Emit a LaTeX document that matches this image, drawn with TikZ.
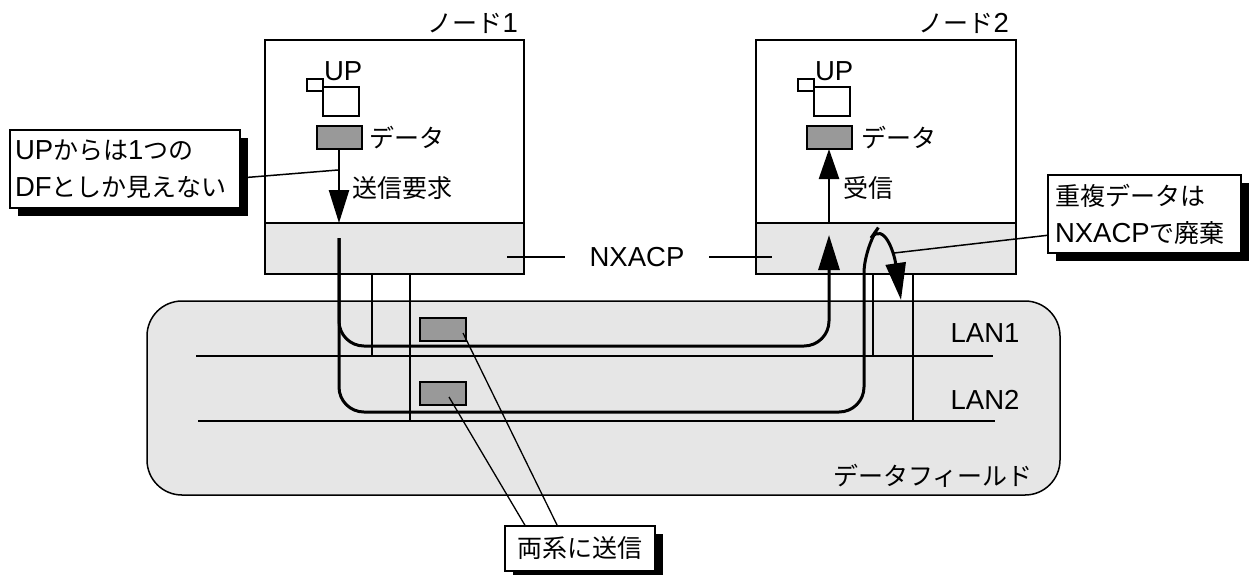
\documentclass[tikz,border=0pt]{standalone}
\usepackage{fontspec}
\setmainfont{Noto Sans CJK JP}
\newfontfamily\lat[Scale=1.1]{Liberation Sans}
\usetikzlibrary{arrows.meta}
\definecolor{fieldgray}{HTML}{E6E6E6}
\definecolor{pktgray}{HTML}{999999}
\begin{document}
\begin{tikzpicture}[x=1pt,y=-1pt,
  every node/.style={inner sep=0pt, outer sep=0pt},
  jpt/.style={font=\fontsize{25}{37}\selectfont},
  latt/.style={font=\lat\fontsize{25}{30}\selectfont},
  boxline/.style={draw=black, line width=2.5pt},
  nodebox/.style={boxline, fill=white, anchor=north west},
  nxbox/.style={boxline, fill=fieldgray, anchor=north west},
  datab/.style={draw=black, line width=2pt, fill=pktgray, minimum width=45pt, minimum height=23pt},
  upbox/.style={draw=black, line width=1.8pt, fill=white, anchor=north west},
  route/.style={line width=3pt},
  arrowl/.style={line width=2.5pt},
  thinl/.style={line width=1.5pt},
  lanl/.style={line width=2pt},
  callout/.style={draw=black, line width=2.5pt, fill=white, anchor=north west, font=\fontsize{25}{37}\selectfont},
  shadowc/.style={fill=black},
]
\useasboundingbox (0,0) rectangle (1249,574);

% data field
\node[draw=black, line width=1.5pt, fill=fieldgray, rounded corners=35pt,
      minimum width=913pt, minimum height=194pt, anchor=north west] (df) at (147,301) {};
\node[jpt] (dft) at (933,476) {データフィールド};
\node[latt] (lan1) at (985,333) {LAN1};
\node[latt] (lan2) at (985,400) {LAN2};

% LAN lines
\coordinate (l1a) at (196,356); \coordinate (l1b) at (993,356);
\coordinate (l2a) at (198,421); \coordinate (l2b) at (995,421);
\draw[lanl] (l1a) -- (l1b);
\draw[lanl] (l2a) -- (l2b);

% node boxes
\node[nodebox, minimum width=259pt, minimum height=183pt] (n1) at (265,40) {};
\node[nxbox, minimum width=259pt, minimum height=51pt] (g1) at (265,223) {};
\node[nodebox, minimum width=260pt, minimum height=183pt] (n2) at (756,40) {};
\node[nxbox, minimum width=260pt, minimum height=51pt] (g2) at (756,223) {};
\node[jpt, anchor=south east] (n1t) at (518,34) {ノード{\lat 1}};
\node[jpt, anchor=south east] (n2t) at (1009,34) {ノード{\lat 2}};

% thin drops to LANs
\draw[thinl] (g1.south -| 372,0) -- (l1a -| 372,0);
\draw[thinl] (g1.south -| 410,0) -- (l2a -| 410,0);
\draw[thinl] (g2.south -| 873,0) -- (l1a -| 873,0);
\draw[thinl] (g2.south -| 913,0) -- (l2a -| 913,0);

% UP boxes
\node[upbox, minimum width=16pt, minimum height=12pt] (s1) at (307,79) {};
\node[upbox, minimum width=36pt, minimum height=29pt] (u1) at (323,87) {};
\node[latt, anchor=south west] (up1) at (324,81) {UP};
\node[upbox, minimum width=16pt, minimum height=12pt] (s2) at (798,79) {};
\node[upbox, minimum width=36pt, minimum height=29pt] (u2) at (814,87) {};
\node[latt, anchor=south west] (up2) at (815,81) {UP};

% data boxes
\node[datab] (d1) at (339,137.5) {};
\node[jpt, anchor=west] (d1t) at (369,138) {データ};
\node[datab] (d2) at (829,137.5) {};
\node[jpt, anchor=west] (d2t) at (861,138) {データ};
\node[jpt, anchor=west] (send) at (352,188) {送信要求};
\node[jpt, anchor=west] (recv) at (843,188) {受信};

% vertical arrows
\draw[arrowl, -{Triangle[length=33pt,width=20pt]}] (d1.south) -- (d1.south |- g1.north);
\draw[arrowl, -{Triangle[length=30pt,width=20pt]}] (d2.south |- g2.north) -- (d2.south);

% routes
\coordinate (r0) at (339,238);
\draw[route, rounded corners=25pt, -{Triangle[length=35pt,width=21pt]}]
  (r0) |- (829,346) -- (829,235);
\draw[route, -{Triangle[length=37pt,width=20pt]}]
  (r0) [rounded corners=25pt] |- (864,412) -- (864,248) [sharp corners] -- (871,238)
  .. controls (884,222) and (894,252) .. (901,300);

% NXACP label
\node[latt] (nx) at (637,257) {NXACP};
\coordinate (nxl) at (507,257); \coordinate (nxr) at (772,257);
\draw[thinl] (nxl) -- ([xshift=-25pt]nx.west);
\draw[thinl] ([xshift=25pt]nx.east) -- (nxr);

% packets
\node[datab, minimum width=46pt] (p1) at (442.5,329.5) {};
\node[datab, minimum width=46pt] (p2) at (442.5,393.5) {};

% callout: left
\fill[shadowc] (18,138) rectangle (248,216);
\coordinate (la) at (338,170);
\draw[thinl] (240,178) -- (la);
\node[callout, minimum width=230pt, minimum height=78pt, text width=220pt, inner xsep=5pt, align=left] (cl) at (10,130)
  {{\lat UP}からは{\lat 1}つの\\{\lat DF}としか見えない};

% callout: right
\fill[shadowc] (1056,183) rectangle (1249,261);
\coordinate (hk) at (894,253);
\draw[thinl] (1050,235) -- (hk);
\node[callout, minimum width=193pt, minimum height=78pt, text width=179pt, inner xsep=7pt, align=left] (cr) at (1048,175)
  {重複データは\\{\lat NXACP}で廃棄};

% callout: bottom
\fill[shadowc] (513,534) rectangle (663,580);
\coordinate (p1in) at (463,333);
\coordinate (p2in) at (449,397);
\draw[line width=1.3pt] (558,527) -- (p1in);
\draw[line width=1.3pt] (526,527) -- (p2in);
\node[callout, minimum width=150pt, minimum height=45pt] (cb) at (505,526) {両系に送信};
\end{tikzpicture}
\end{document}
